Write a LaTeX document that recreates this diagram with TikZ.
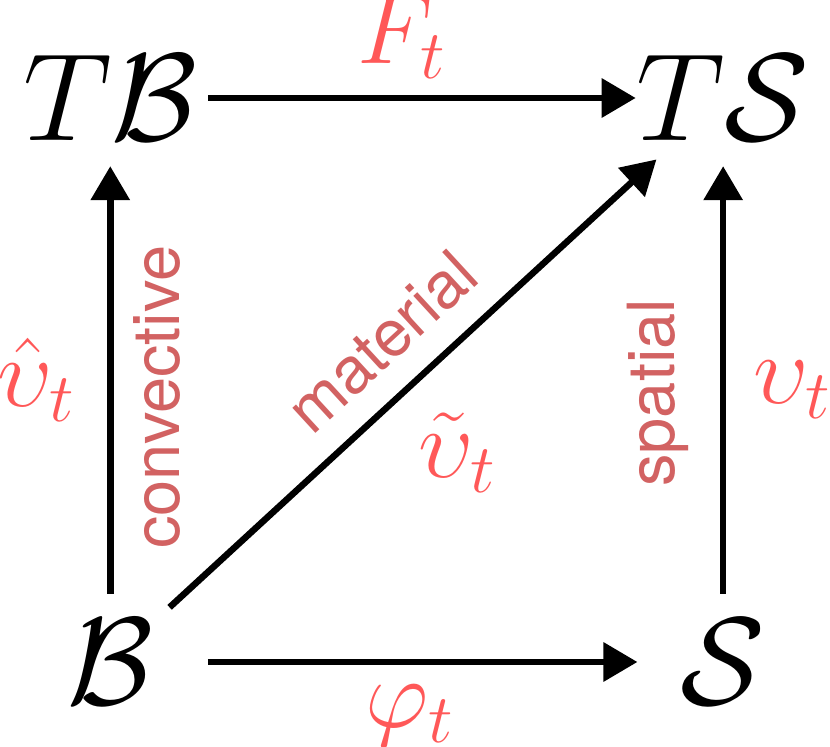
\RequirePackage{fix-cm}
\documentclass[tikz,border=0pt]{standalone}
\usepackage{fontspec}
\setsansfont{TeX Gyre Heros}
\usetikzlibrary{matrix,arrows.meta,positioning}
\definecolor{velred}{RGB}{255,88,88}
\definecolor{kindred}{RGB}{210,98,98}

\begin{document}
\begin{tikzpicture}[
  arr/.style={line width=0.065cm,-{Triangle[length=0.34cm,width=0.38cm]}},
  vel/.style={text=velred,inner sep=0pt,font=\fontsize{28}{32}\selectfont},
  kind/.style={text=kindred,inner sep=0pt,font=\sffamily\fontsize{18.5}{22}\selectfont}]
\useasboundingbox (0,0) rectangle (8.3,7.47);
\matrix (m) at (4.165,3.67) [matrix of math nodes, column sep=4.39cm, row sep=4.29cm, nodes={inner sep=0pt, anchor=center, minimum width=1.7cm, minimum height=1.35cm, text height=0.85cm, text depth=0pt, font=\fontsize{35.5}{40}\selectfont}]{
T\mathcal{B} & T\mathcal{S} \\
\mathcal{B} & \mathcal{S} \\
};

% Horizontal
\draw[arr,shorten <=0.1cm] (m-1-1)--(m-1-2) node[vel,midway,above=0.16cm,xshift=-0.15cm] {$F_t$};
\draw[arr,shorten <=0.12cm] (m-2-1)--(m-2-2) node[vel,midway,below=0.2cm,xshift=-0.07cm] {$\varphi_t$};

% Vertical
\draw[arr] (m-2-1)--(m-1-1) node[vel,midway,left=0.31cm] {$\hat{\upsilon}_t$} node[kind,pos=0.46,sloped,below=0.2cm] {convective};
\draw[arr] (m-2-2)--(m-1-2) node[vel,midway,right=0.27cm,yshift=-0.1cm] {$\upsilon_t$} node[kind,pos=0.47,sloped,above=0.31cm] {spatial};

% Diagonal
\draw[arr,shorten <=-0.2cm,shorten >=-0.1cm] (m-2-1)--(m-1-2) node[kind,pos=0.5,sloped,above=0.25cm] {material} node[vel,pos=0.47,xshift=0.55cm,yshift=-0.6cm] {$\tilde{\upsilon}_t$};

\end{tikzpicture}
\end{document}
